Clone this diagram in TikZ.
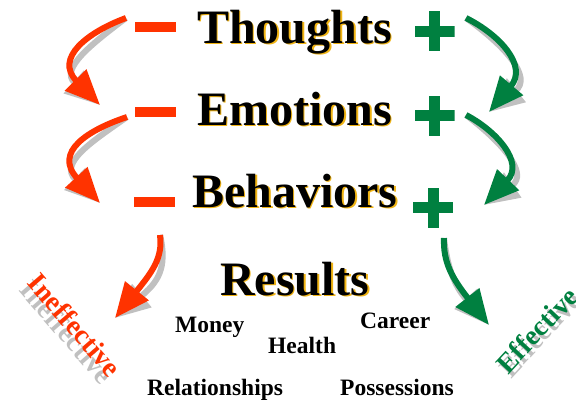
\documentclass[tikz,border=0pt]{standalone}
\usepackage{fontspec}
\setmainfont{Liberation Serif}
\usetikzlibrary{arrows.meta}
\definecolor{ared}{RGB}{255,51,0}
\definecolor{agreen}{RGB}{0,128,64}
\definecolor{agold}{RGB}{240,180,20}
\definecolor{ashadow}{RGB}{192,192,192}
\tikzset{
  bigword/.style={font=\bfseries\fontsize{48}{50}\selectfont, anchor=base west, inner sep=0pt},
  goldglow/.style={bigword, text=agold},
  smallword/.style={font=\bfseries\fontsize{23.5}{25}\selectfont, anchor=base west, inner sep=0pt},
  slantword/.style={font=\bfseries\fontsize{28}{30}\selectfont, inner sep=0pt},
  minusbar/.style={fill=ared, minimum width=41pt, minimum height=10pt, inner sep=0pt},
  plusmark/.style={minimum size=40pt, inner sep=0pt,
    path picture={
      \fill[agreen] ([xshift=-5.5pt]path picture bounding box.north) rectangle ([xshift=5.5pt]path picture bounding box.south);
      \fill[agreen] ([yshift=5.5pt]path picture bounding box.west) rectangle ([yshift=-5.5pt]path picture bounding box.east);}},
  curvearrow/.style={line width=6pt, -{Triangle[length=35pt,width=29pt]}},
  redarrow/.style={curvearrow, draw=ared, color=ared},
  greenarrow/.style={curvearrow, draw=agreen, color=agreen},
  dropshadow/.style={curvearrow, draw=ashadow, color=ashadow, shift={(5,11)}},
}
\begin{document}
\begin{tikzpicture}[x=1pt, y=-1pt]
\useasboundingbox[fill=white] (0,0) rectangle (576,400);
\clip (0,0) rectangle (576,400);

% main words with a golden glow behind them
\node[goldglow] (thoughtsGlow) at (198.5,44.5) {Thoughts};
\node[bigword]  (thoughts)     at (197,43) {Thoughts};
\node[goldglow] (emotionsGlow) at (198.5,126.5) {Emotions};
\node[bigword]  (emotions)     at (197,125) {Emotions};
\node[goldglow] (behaviorsGlow) at (193.5,208.5) {Behaviors};
\node[bigword]  (behaviors)     at (192,207) {Behaviors};
\node[goldglow] (resultsGlow) at (221.5,296.5) {Results};
\node[bigword]  (results)     at (220,295) {Results};

% minus signs
\node[minusbar] (m1) at (155.5,27) {};
\node[minusbar] (m2) at (155.5,112) {};
\node[minusbar] (m3) at (154,201.5) {};

% plus signs
\node[plusmark] (p1) at (434.5,31) {};
\node[plusmark] (p2) at (434.5,115.5) {};
\node[plusmark] (p3) at (433,207.5) {};

% arrow end points
\coordinate (r1a) at (126,18);  \coordinate (r1b) at (100,105);
\coordinate (r2a) at (127,117); \coordinate (r2b) at (100,203);
\coordinate (r3a) at (160,235); \coordinate (r3b) at (115,318);
\coordinate (g1a) at (466,18);  \coordinate (g1b) at (489,112);
\coordinate (g2a) at (466,115); \coordinate (g2b) at (484,205);
\coordinate (g3a) at (444,238); \coordinate (g3b) at (489,325);

% shadows of the curved arrows
\draw[dropshadow] (r1a) .. controls (88,32) and (54,58) .. (r1b);
\draw[dropshadow] (r2a) .. controls (88,130) and (53,152) .. (r2b);
\draw[dropshadow] (r3a) .. controls (163,258) and (152,272) .. (r3b);
\draw[dropshadow] (g1a) .. controls (500,35) and (528,66) .. (g1b);
\draw[dropshadow] (g2a) .. controls (495,130) and (525,162) .. (g2b);
\draw[dropshadow] (g3a) .. controls (443,262) and (452,278) .. (g3b);

% curved arrows
\draw[redarrow] (r1a) .. controls (88,32) and (54,58) .. (r1b);
\draw[redarrow] (r2a) .. controls (88,130) and (53,152) .. (r2b);
\draw[redarrow] (r3a) .. controls (163,258) and (152,272) .. (r3b);
\draw[greenarrow] (g1a) .. controls (500,35) and (528,66) .. (g1b);
\draw[greenarrow] (g2a) .. controls (495,130) and (525,162) .. (g2b);
\draw[greenarrow] (g3a) .. controls (443,262) and (452,278) .. (g3b);

% slanted outcome labels
\node[slantword, text=ashadow, rotate=-49] (ineffShadow) at (67,332) {Ineffective};
\node[slantword, text=ared, rotate=-49] (ineff) at (75,325) {Ineffective};
\node[slantword, text=ashadow, rotate=47] (effShadow) at (540,334) {Effective};
\node[slantword, text=agreen, rotate=47] (eff) at (537,330) {Effective};

% kinds of results
\node[smallword] (money)  at (175,332) {Money};
\node[smallword] (health) at (268,353) {Health};
\node[smallword] (career) at (360,328) {Career};
\node[smallword] (relationships) at (147,395) {Relationships};
\node[smallword] (possessions)   at (340,395) {Possessions};
\end{tikzpicture}
\end{document}
